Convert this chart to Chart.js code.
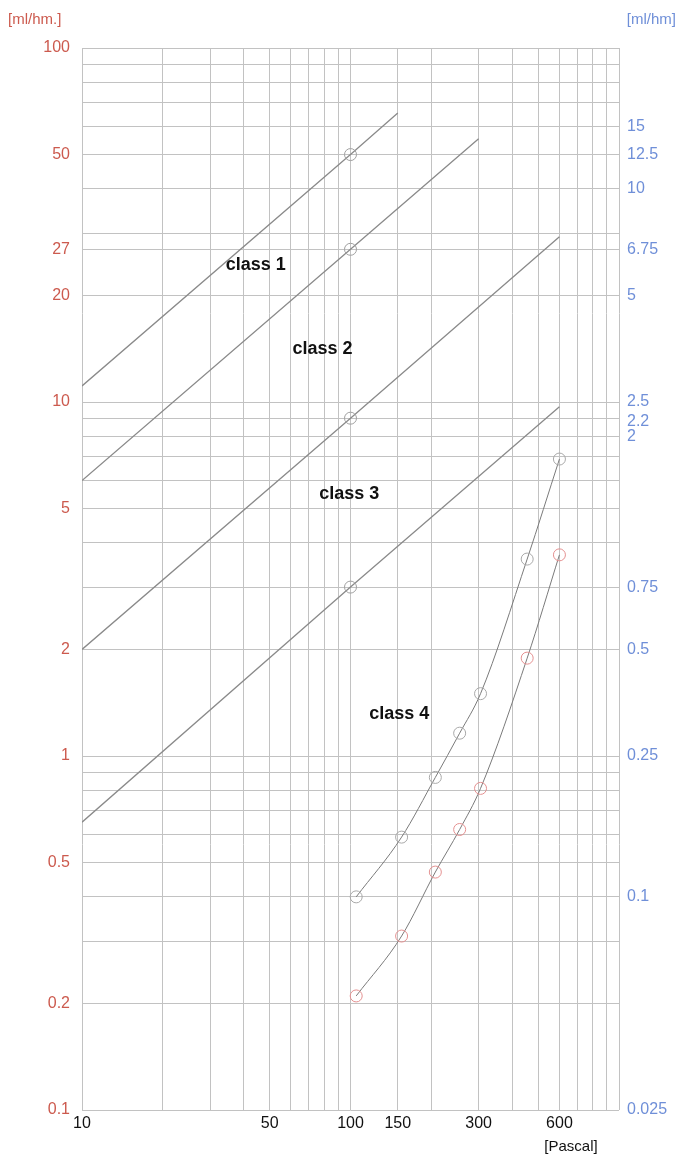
<!DOCTYPE html>
<html><head><meta charset="utf-8">
<script src="https://cdn.jsdelivr.net/npm/chart.js@4/dist/chart.umd.min.js"></script>
<style>html,body{margin:0;padding:0;background:#fff;}canvas{display:block;}</style>
</head><body>
<canvas id="c" width="680" height="1163"></canvas>
<script>
// grid / tick values
const xGrid = [10,20,30,40,50,60,70,80,90,100,150,200,300,400,500,600,700,800,900,1000];
const xLabels = [10,50,100,150,300,600];
const yGrid = [0.1,0.2,0.3,0.4,0.5,0.6,0.7,0.8,0.9,1,2,3,4,5,6,7,8,9,10,20,27,30,40,50,60,70,80,90,100];
const yLabels = [0.1,0.2,0.5,1,2,5,10,20,27,50,100];
const y2Labels = [0.025,0.1,0.25,0.5,0.75,2,2.2,2.5,5,6.75,10,12.5,15];

// class lines
const class1X = [10,100,150];  const class1Y = [11.1,50,65.5];
const class2X = [10,100,300];  const class2Y = [6,27,55.4];
const class3X = [10,100,600];  const class3Y = [2,9,29.3];
const class4X = [10,100,600];  const class4Y = [0.65,3,9.7];
const classMarker = [0,1,0];

// measured curves
const curveX  = [105,155,207,255,305,455,600];
const curveAY = [0.4,0.59,0.87,1.16,1.5,3.6,6.9];
const curveBY = [0.21,0.31,0.47,0.62,0.81,1.89,3.7];

// annotations
const classNames = ['class 1','class 2','class 3','class 4'];
const classLabelX = [44.4,78.7,99,152];
const classLabelY = [24.4,14.1,5.5,1.31];

const FONT = 'Liberation Sans, Arial, sans-serif';
const pts = (xs, ys) => xs.map((x,i)=>({x, y: ys[i]}));

function classDs(xs, ys){
  return {
    data: pts(xs, ys), borderColor:'#8a8a8a', borderWidth:1.3, tension:0,
    pointRadius: classMarker.map(m=>m?6:0), pointBorderColor:'#a0a0a0',
    pointBackgroundColor:'rgba(0,0,0,0)', pointBorderWidth:1, yAxisID:'y'
  };
}

const textPlugin = {
  id:'texts',
  afterDatasetsDraw(chart){
    const {ctx, scales:{x,y}} = chart;
    ctx.save();
    ctx.font = 'bold 18px ' + FONT;
    ctx.fillStyle = '#111';
    ctx.textAlign = 'center'; ctx.textBaseline = 'middle';
    classNames.forEach((n,i)=>{
      ctx.fillText(n, x.getPixelForValue(classLabelX[i]), y.getPixelForValue(classLabelY[i]));
    });
    ctx.font = '15px ' + FONT;
    ctx.textBaseline = 'middle';
    ctx.fillStyle = '#cc5a4e'; ctx.textAlign = 'left';
    ctx.fillText('[ml/hm.]', 8, 20);
    ctx.fillStyle = '#6f8fd8'; ctx.textAlign = 'right';
    ctx.fillText('[ml/hm]', 676, 20);
    ctx.fillStyle = '#111'; ctx.textAlign = 'center';
    ctx.fillText('[Pascal]', 571, 1147);
    ctx.restore();
  }
};

new Chart(document.getElementById('c'), {
  type:'line',
  data:{ datasets:[
    classDs(class1X, class1Y),
    classDs(class2X, class2Y),
    classDs(class3X, class3Y),
    classDs(class4X, class4Y),
    { data: pts(curveX, curveAY), borderColor:'#7a7a7a', borderWidth:1, cubicInterpolationMode:'monotone',
      pointRadius:6, pointBorderColor:'#a8a8a8', pointBackgroundColor:'rgba(0,0,0,0)', pointBorderWidth:1, yAxisID:'y' },
    { data: pts(curveX, curveBY), borderColor:'#7a7a7a', borderWidth:1, cubicInterpolationMode:'monotone',
      pointRadius:6, pointBorderColor:'#e49090', pointBackgroundColor:'rgba(0,0,0,0)', pointBorderWidth:1, yAxisID:'y' }
  ]},
  options:{
    responsive:false, animation:false, events:[],
    layout:{ padding:{ top:48, left:0, right:0, bottom:0 } },
    plugins:{ legend:{display:false}, tooltip:{enabled:false} },
    scales:{
      x:{ type:'logarithmic', position:'bottom', min:10, max:1000,
        afterBuildTicks: s => { s.ticks = xGrid.map(v=>({value:v})); },
        afterFit: s => { s.height = 53; },
        grid:{ color:'#c2c2c2', lineWidth:1, drawTicks:false },
        border:{ display:false },
        ticks:{ autoSkip:false, maxRotation:0, padding:4, color:'#111',
          font:{ size:16, family:FONT },
          callback: v => xLabels.includes(v) ? String(v) : '' } },
      y:{ type:'logarithmic', position:'left', min:0.1, max:100,
        afterBuildTicks: s => { s.ticks = yGrid.map(v=>({value:v})); },
        afterFit: s => { s.width = 82; },
        grid:{ color:'#c2c2c2', lineWidth:1, drawTicks:false },
        border:{ display:false },
        ticks:{ autoSkip:false, padding:12, color:'#cc5a4e',
          font:{ size:16, family:FONT },
          callback: v => yLabels.includes(v) ? String(v) : '' } },
      y2:{ type:'logarithmic', position:'right', min:0.025, max:25,
        afterBuildTicks: s => { s.ticks = y2Labels.map(v=>({value:v})); },
        afterFit: s => { s.width = 61; },
        grid:{ display:false, drawTicks:false },
        border:{ display:false },
        ticks:{ autoSkip:false, padding:8, color:'#6f8fd8',
          font:{ size:16, family:FONT },
          callback: v => String(v) } }
    }
  },
  plugins:[textPlugin]
});
</script>
</body></html>
